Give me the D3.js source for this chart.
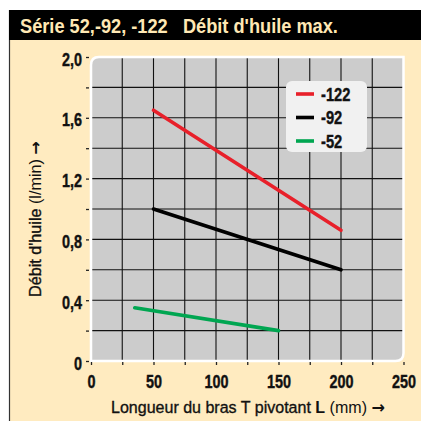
<!DOCTYPE html>
<html>
<head>
<meta charset="utf-8">
<script src="https://cdn.jsdelivr.net/npm/d3@7"></script>
<style>
  html, body { margin: 0; padding: 0; background: #fff; }
  svg { display: block; }
  text { font-family: "Liberation Sans", Arial, sans-serif; }
</style>
</head>
<body>
<svg width="421" height="421"></svg>
<script>
// data
var seriesNames = ["-122", "-92", "-52"];
var lengthMm = {
  "-122": [50, 200],
  "-92": [50, 200],
  "-52": [35, 150]
};
var oilFlow = {
  "-122": [1.65, 0.86],
  "-92": [1.0, 0.6],
  "-52": [0.35, 0.2]
};
var xTickValues = [0, 25, 50, 75, 100, 125, 150, 175, 200, 225, 250];
var xTickLabels = ["0", "50", "100", "150", "200", "250"];
var yTickValues = [0, 0.2, 0.4, 0.6, 0.8, 1.0, 1.2, 1.4, 1.6, 1.8, 2.0];
var yTickLabels = ["0", "0,4", "0,8", "1,2", "1,6", "2,0"];

var colors = { "-122": "#e8202a", "-92": "#000000", "-52": "#00a651" };
var narrow = 0.8; // fake condensed face

var svg = d3.select("svg");

var x = d3.scaleLinear().domain([0, 250]).range([91, 403.5]);
var y = d3.scaleLinear().domain([0, 2]).range([361, 57]);

// squeeze a text horizontally to a given width
function fitText(sel, w) {
  var k = w / sel.node().getComputedTextLength();
  sel.attr("transform", "scale(" + k + ",1)");
}

// panel
svg.append("rect")
  .attr("x", 9).attr("y", 10).attr("width", 412).attr("height", 411)
  .attr("fill", "#ffebc0");
svg.append("line")
  .attr("x1", 9.5).attr("x2", 9.5).attr("y1", 10).attr("y2", 421)
  .attr("stroke", "#333").attr("stroke-width", 1.2);
svg.append("rect")
  .attr("x", 9).attr("y", 10).attr("width", 412).attr("height", 30)
  .attr("fill", "#000");
var title = svg.append("g").attr("transform", "translate(20,32.5)")
  .append("text")
  .style("font-size", "19.5px").style("font-weight", "bold")
  .attr("fill", "#ffe8b4")
  .attr("xml:space", "preserve")
  .text("Série 52,-92, -122   Débit d'huile max.");
fitText(title, 318);

// plot background, rounded top-left and bottom-right
var x0 = x(0), x1 = x(250), y0 = y(2), y1 = y(0), r = 8;
var frame = "M" + x0 + "," + (y0 + r) + " Q" + x0 + "," + y0 + " " + (x0 + r) + "," + y0 +
    " L" + x1 + "," + y0 + " L" + x1 + "," + (y1 - r) +
    " Q" + x1 + "," + y1 + " " + (x1 - r) + "," + y1 + " L" + x0 + "," + y1 + " Z";
svg.append("path").attr("d", frame).attr("fill", "#cccccc");

var g = svg.append("g");

// grid
g.selectAll(".vgrid")
  .data(xTickValues.slice(1, -1))
  .enter().append("line")
  .attr("class", "vgrid")
  .attr("x1", function(d) { return x(d); })
  .attr("x2", function(d) { return x(d); })
  .attr("y1", y0).attr("y2", y1)
  .attr("stroke", "#111").attr("stroke-width", 1.1);

g.selectAll(".hgrid")
  .data(yTickValues.slice(1, -1))
  .enter().append("line")
  .attr("class", "hgrid")
  .attr("x1", x0).attr("x2", x1)
  .attr("y1", function(d) { return y(d); })
  .attr("y2", function(d) { return y(d); })
  .attr("stroke", "#111").attr("stroke-width", 1.1);

// white border over the grid ends
svg.append("path").attr("d", frame)
  .attr("fill", "none").attr("stroke", "#fff").attr("stroke-width", 2.5);

// axes
var yAxis = svg.append("g")
  .attr("transform", "translate(89,0)")
  .call(d3.axisLeft(y)
    .tickValues(yTickValues)
    .tickSize(3)
    .tickPadding(4)
    .tickFormat(function(d, i) { return i % 2 === 0 ? yTickLabels[i / 2] : ""; }));

var xAxis = svg.append("g")
  .attr("transform", "translate(0,362)")
  .call(d3.axisBottom(x)
    .tickValues(xTickValues)
    .tickSize(3)
    .tickPadding(10)
    .tickFormat(function(d, i) { return i % 2 === 0 ? xTickLabels[i / 2] : ""; }));

[xAxis, yAxis].forEach(function(ax) {
  ax.select(".domain").remove();
  ax.selectAll(".tick line").attr("stroke", "#222").attr("stroke-width", 1.3);
  ax.selectAll(".tick text")
    .attr("fill", "#111")
    .attr("stroke", "#111").attr("stroke-width", 0.4)
    .attr("transform", "scale(" + narrow + ",1)")
    .style("font-family", "'Liberation Sans', Arial, sans-serif")
    .style("font-size", "18px")
    .style("font-weight", "bold");
});
yAxis.selectAll(".tick text").attr("x", -7 / narrow).attr("dy", "0.45em");

// series
var line = d3.line()
  .x(function(d) { return x(d[0]); })
  .y(function(d) { return y(d[1]); });

seriesNames.forEach(function(name) {
  var pts = lengthMm[name].map(function(v, i) { return [v, oilFlow[name][i]]; });
  svg.append("path")
    .datum(pts)
    .attr("d", line)
    .attr("fill", "none")
    .attr("stroke", colors[name])
    .attr("stroke-width", 3.6)
    .attr("stroke-linecap", "round");
});

// legend
var legend = svg.append("g").attr("transform", "translate(286,81)");
legend.append("rect")
  .attr("width", 81).attr("height", 71).attr("rx", 6)
  .attr("fill", "#f1f1f1");
var items = legend.selectAll(".item")
  .data(seriesNames)
  .enter().append("g")
  .attr("class", "item")
  .attr("transform", function(d, i) { return "translate(0," + (13 + i * 23.5) + ")"; });
items.append("line")
  .attr("x1", 10).attr("x2", 28)
  .attr("stroke", function(d) { return colors[d]; })
  .attr("stroke-width", 3.6);
items.append("g").attr("transform", "translate(35,6.5)")
  .append("text")
  .attr("transform", "scale(0.84,1)")
  .style("font-size", "17.5px").style("font-weight", "bold")
  .attr("fill", "#111")
  .attr("stroke", "#111").attr("stroke-width", 0.4)
  .text(function(d) { return d; });

// axis titles
var xt = svg.append("g").attr("transform", "translate(111,413)")
  .append("text")
  .style("font-size", "17px")
  .attr("fill", "#111");
xt.append("tspan").attr("stroke", "#111").attr("stroke-width", 0.35).text("Longueur du bras T pivotant ");
xt.append("tspan").style("font-weight", "bold").text("L");
xt.append("tspan").text(" (mm) ");
xt.append("tspan").style("font-family", "'DejaVu Sans', sans-serif").style("font-weight", "bold").text("\u2192");
fitText(xt, 274);

var yt = svg.append("g").attr("transform", "translate(41,297) rotate(-90)")
  .append("text")
  .style("font-size", "16px")
  .attr("fill", "#111");
yt.append("tspan").attr("stroke", "#111").attr("stroke-width", 0.35).text("Débit d'huile ");
yt.append("tspan").text("(l/min) ");
yt.append("tspan").style("font-family", "'DejaVu Sans', sans-serif").style("font-weight", "bold").text("\u2192");
fitText(yt, 156);
</script>
</body>
</html>
